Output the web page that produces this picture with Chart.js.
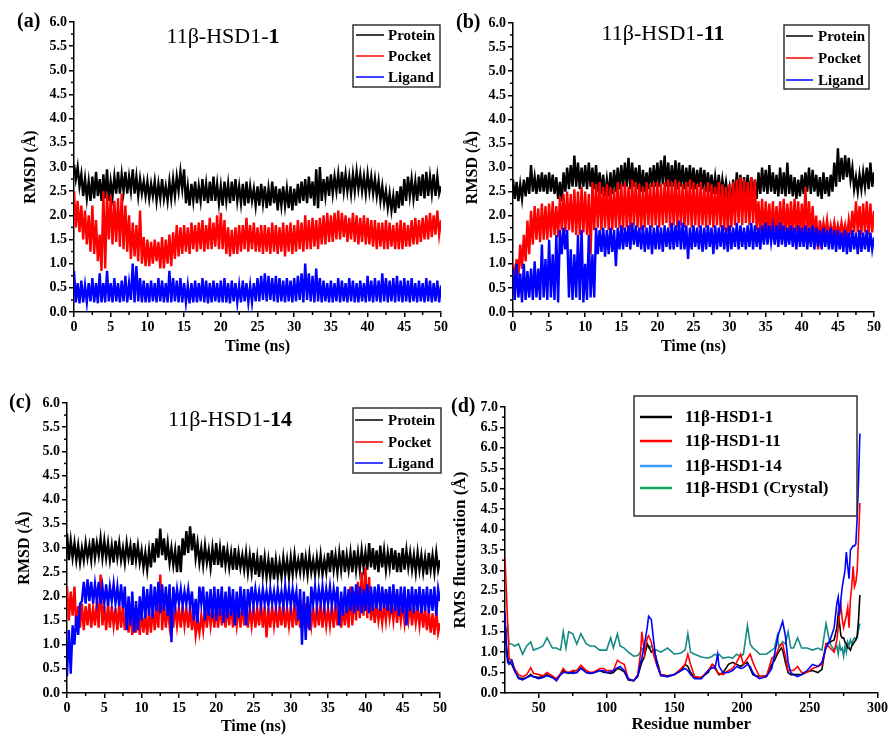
<!DOCTYPE html>
<html>
<head>
<meta charset="utf-8">
<script src="https://cdn.jsdelivr.net/npm/chart.js@4.4.1/dist/chart.umd.min.js"></script>
<style>
  body { margin: 0; background: #fff; }
  #wrap { position: relative; width: 890px; height: 735px; }
  #wrap canvas { position: absolute; left: 0; top: 0; }
</style>
</head>
<body>
<div id="wrap">
  <canvas id="panelA" width="890" height="735"></canvas>
  <canvas id="panelB" width="890" height="735"></canvas>
  <canvas id="panelC" width="890" height="735"></canvas>
  <canvas id="panelD" width="890" height="735"></canvas>
</div>
<script>
// ---------------------------------------------------------------
// data (RMSD in Å, one sample every 0.25 ns)
// ---------------------------------------------------------------
const timeStep = 0.25;
const timeTicks = [0, 5, 10, 15, 20, 25, 30, 35, 40, 45, 50];
const rmsdTicks = [0, 0.5, 1, 1.5, 2, 2.5, 3, 3.5, 4, 4.5, 5, 5.5, 6];
const seriesNames = ['Protein', 'Pocket', 'Ligand'];

// (a) 11β-HSD1-1
const protein1 = [
  3.05,2.75,3.0,2.6,2.85,2.4,2.75,2.35,2.7,2.3,2.8,2.35,2.9,2.4,2.75,2.3,2.85,2.35,2.95,2.3,
  2.7,2.4,2.8,2.45,2.9,2.45,2.85,2.5,2.9,2.45,2.8,2.5,2.95,2.45,2.8,2.4,2.75,2.45,2.7,2.4,
  2.7,2.35,2.65,2.4,2.7,2.3,2.65,2.35,2.75,2.35,2.6,2.3,2.7,2.35,2.75,2.4,2.8,2.5,2.9,2.55,
  2.95,2.25,2.6,2.2,2.65,2.3,2.7,2.25,2.6,2.3,2.75,2.3,2.65,2.25,2.7,2.3,2.8,2.3,2.65,2.25,
  2.6,2.2,2.7,2.3,2.65,2.25,2.7,2.3,2.75,2.3,2.6,2.25,2.65,2.2,2.7,2.25,2.6,2.3,2.55,2.2,
  2.6,2.2,2.65,2.25,2.6,2.15,2.55,2.2,2.7,2.25,2.6,2.1,2.55,2.2,2.6,2.2,2.55,2.15,2.6,2.1,
  2.55,2.2,2.65,2.25,2.7,2.3,2.75,2.25,2.8,2.35,2.7,2.2,2.95,2.15,3.0,2.3,2.75,2.4,2.8,2.4,
  2.85,2.45,2.8,2.5,2.85,2.45,2.9,2.5,2.85,2.5,2.8,2.45,2.85,2.5,2.9,2.55,2.85,2.5,2.8,2.45,
  2.85,2.5,2.8,2.45,2.75,2.4,2.7,2.3,2.6,2.25,2.5,2.15,2.45,2.1,2.4,2.05,2.5,2.15,2.6,2.2,
  2.75,2.3,2.8,2.4,2.75,2.35,2.7,2.3,2.8,2.4,2.85,2.35,2.9,2.4,2.8,2.45,2.85,2.4,2.8,2.45,
  2.6
];
const pocket1 = [
  2.5,1.75,2.3,1.65,2.2,1.5,2.1,1.4,2.0,1.25,2.2,1.2,1.9,1.05,1.6,0.85,2.5,0.9,2.45,1.5,
  2.4,1.4,2.3,1.45,2.35,1.35,2.45,1.3,2.2,1.25,2.0,1.1,1.85,1.15,1.8,1.05,2.1,1.0,1.55,0.95,
  1.5,0.95,1.45,1.0,1.5,1.05,1.45,0.9,1.55,0.9,1.5,1.0,1.6,0.95,1.65,1.1,1.8,1.15,1.75,1.2,
  1.8,1.25,1.75,1.2,1.85,1.3,1.8,1.25,1.85,1.3,1.9,1.25,1.8,1.3,1.95,1.3,1.85,1.35,2.0,1.3,
  2.05,1.3,1.9,1.2,1.75,1.15,1.7,1.2,1.75,1.2,1.8,1.25,1.8,1.3,1.95,1.25,1.8,1.3,1.85,1.25,
  1.75,1.25,1.8,1.2,1.8,1.25,1.75,1.2,1.85,1.25,1.8,1.2,1.75,1.25,1.85,1.15,1.8,1.25,1.85,1.2,
  1.8,1.25,1.9,1.3,1.85,1.25,2.0,1.3,1.9,1.3,1.95,1.35,1.9,1.3,1.95,1.4,2.0,1.4,2.05,1.45,
  2.0,1.45,2.05,1.5,2.1,1.5,2.05,1.55,2.0,1.45,1.95,1.5,2.05,1.45,2.0,1.4,1.95,1.45,2.0,1.4,
  1.95,1.4,1.9,1.35,1.9,1.3,1.85,1.35,1.85,1.3,1.9,1.3,1.85,1.35,1.8,1.3,1.85,1.3,1.9,1.3,
  1.85,1.35,1.8,1.35,1.9,1.4,1.95,1.4,1.9,1.45,1.95,1.5,2.0,1.5,2.05,1.55,2.0,1.6,2.1,1.6,
  1.9
];
const ligand1 = [
  0.85,0.2,0.6,0.18,0.65,0.2,0.55,0.2,0.6,0.22,0.7,0.2,0.6,0.18,0.8,0.2,0.6,0.2,0.85,0.22,
  0.6,0.2,0.7,0.22,0.6,0.2,0.65,0.22,0.75,0.2,0.6,0.25,1.0,0.2,0.95,0.22,0.7,0.2,0.65,0.2,
  0.6,0.2,0.65,0.22,0.6,0.2,0.7,0.22,0.65,0.2,0.6,0.2,0.85,0.2,0.7,0.22,0.65,0.2,0.7,0.2,
  0.6,0.2,0.55,0.18,0.6,0.2,0.65,0.2,0.6,0.22,0.7,0.2,0.65,0.18,0.6,0.2,0.65,0.22,0.6,0.2,
  0.65,0.2,0.7,0.2,0.6,0.18,0.65,0.22,0.6,0.2,0.55,0.2,0.65,0.22,0.6,0.2,0.55,0.2,0.6,0.22,
  0.7,0.22,0.75,0.25,0.8,0.22,0.75,0.25,0.7,0.22,0.75,0.2,0.7,0.22,0.65,0.2,0.7,0.22,0.65,0.2,
  0.7,0.22,0.75,0.25,0.8,0.2,1.0,0.25,0.8,0.22,0.75,0.2,0.9,0.22,0.7,0.2,0.65,0.22,0.6,0.2,
  0.65,0.2,0.6,0.22,0.7,0.2,0.65,0.22,0.6,0.2,0.7,0.22,0.65,0.2,0.6,0.2,0.65,0.22,0.6,0.2,
  0.75,0.22,0.65,0.2,0.7,0.22,0.65,0.2,0.8,0.22,0.7,0.2,0.65,0.22,0.7,0.2,0.75,0.22,0.65,0.2,
  0.7,0.22,0.65,0.2,0.7,0.22,0.6,0.2,0.65,0.22,0.6,0.2,0.7,0.22,0.65,0.2,0.6,0.22,0.65,0.2,
  0.55
];

// (b) 11β-HSD1-11
const protein11 = [
  2.75,2.35,2.7,2.3,2.65,2.35,2.75,2.4,2.8,2.45,3.05,2.5,2.8,2.45,2.85,2.5,2.9,2.5,2.85,2.45,
  2.9,2.5,2.85,2.45,2.8,2.35,2.7,2.3,2.9,2.5,3.0,2.55,3.05,2.6,3.25,2.6,3.1,2.55,3.0,2.6,
  3.05,2.55,3.1,2.6,3.0,2.55,3.05,2.5,2.9,2.45,2.85,2.4,2.75,2.4,2.9,2.45,2.95,2.5,3.0,2.55,
  3.05,2.6,3.1,2.6,3.2,2.55,3.1,2.6,3.0,2.55,3.05,2.5,2.95,2.5,2.9,2.55,3.0,2.6,3.05,2.6,
  3.1,2.6,3.15,2.65,3.25,2.6,3.1,2.6,3.05,2.6,3.15,2.55,3.1,2.6,3.05,2.55,3.0,2.6,3.05,2.55,
  3.0,2.55,2.95,2.6,3.0,2.55,2.95,2.5,2.9,2.5,2.85,2.45,2.8,2.45,2.85,2.4,2.75,2.45,2.7,2.4,
  2.6,2.3,2.75,2.35,2.9,2.4,2.85,2.35,2.8,2.4,2.85,2.35,2.8,2.4,2.75,2.35,2.9,2.45,3.0,2.5,
  2.95,2.45,3.05,2.5,2.9,2.45,2.85,2.4,3.0,2.45,2.9,2.4,3.1,2.45,2.85,2.4,2.8,2.35,2.75,2.4,
  2.85,2.45,2.9,2.5,3.0,2.45,2.95,2.5,2.85,2.4,2.8,2.35,2.9,2.45,2.8,2.4,2.85,2.5,3.1,2.6,
  3.4,2.7,3.2,2.75,3.25,2.8,3.2,2.75,3.0,2.55,2.8,2.5,2.85,2.55,2.9,2.6,3.0,2.55,3.1,2.6,
  2.9
];
const pocket11 = [
  1.0,0.7,1.1,0.75,1.4,0.9,1.6,1.05,1.9,1.2,2.1,1.4,2.2,1.5,2.15,1.45,2.25,1.5,2.2,1.5,
  2.25,1.55,2.3,1.6,2.2,1.55,2.4,1.7,2.45,1.65,2.5,1.7,2.45,1.65,2.55,1.6,2.5,1.6,2.6,1.65,
  2.5,1.6,2.45,1.2,2.7,1.7,2.65,1.75,2.7,1.7,2.6,1.75,2.65,1.7,2.6,1.7,2.55,1.75,2.7,1.75,
  2.65,1.7,2.7,1.75,2.6,1.7,2.75,1.8,2.7,1.75,2.65,1.7,2.6,1.75,2.7,1.8,2.65,1.75,2.7,1.8,
  2.7,1.75,2.65,1.8,2.7,1.85,2.75,1.75,2.7,1.8,2.75,1.75,2.7,1.8,2.65,1.75,2.7,1.8,2.75,1.75,
  2.7,1.8,2.65,1.75,2.7,1.8,2.6,1.75,2.7,1.8,2.65,1.75,2.6,1.8,2.7,1.75,2.65,1.7,2.6,1.65,
  2.65,1.75,2.7,1.8,2.75,1.85,2.8,1.8,2.75,1.85,2.7,1.8,2.8,1.85,2.75,1.7,2.3,1.65,2.35,1.6,
  2.3,1.65,2.25,1.6,2.3,1.65,2.2,1.6,2.3,1.65,2.35,1.6,2.25,1.65,2.3,1.6,2.35,1.65,2.3,1.6,
  2.25,1.6,2.6,1.55,2.3,1.6,2.2,1.5,2.0,1.3,1.9,1.6,1.85,1.6,1.9,1.55,1.8,1.6,1.85,1.6,
  1.8,1.6,1.85,1.6,1.8,1.55,1.9,1.6,2.1,1.65,2.3,1.65,2.2,1.6,2.25,1.65,2.3,1.6,2.25,1.65,
  2.1
];
const ligand11 = [
  0.9,0.25,1.0,0.3,0.8,0.2,1.0,0.25,0.85,0.3,0.9,0.25,1.05,0.3,0.9,0.25,1.4,0.3,1.1,0.25,
  1.5,0.3,1.2,0.25,1.6,0.2,1.7,1.2,1.75,1.3,1.7,0.3,1.3,0.25,1.2,0.3,1.6,0.25,1.7,0.2,
  1.0,0.25,1.6,0.3,1.2,0.3,1.75,1.2,1.7,1.25,1.75,1.15,1.7,1.2,1.75,1.25,1.7,0.95,1.75,1.3,
  1.8,1.3,1.75,1.35,1.8,1.3,1.85,1.4,1.8,1.35,1.75,1.3,1.8,1.25,1.75,1.3,1.8,1.2,1.75,1.3,
  1.8,1.3,1.75,1.25,1.8,1.35,1.75,1.3,1.85,1.3,1.8,1.35,1.9,1.3,1.85,1.3,1.8,1.1,1.75,1.3,
  1.8,1.35,1.75,1.3,1.8,1.25,1.75,1.3,1.8,1.35,1.75,1.2,1.8,1.3,1.75,1.35,1.8,1.3,1.75,1.25,
  1.8,1.3,1.75,1.35,1.85,1.3,1.8,1.35,1.75,1.3,1.8,1.35,1.85,1.3,1.8,1.35,1.75,1.3,1.8,1.4,
  1.85,1.4,1.8,1.45,1.75,1.4,1.8,1.35,1.85,1.4,1.8,1.35,1.75,1.4,1.8,1.35,1.75,1.3,1.8,1.35,
  1.75,1.35,1.8,1.3,1.75,1.35,1.8,1.3,1.75,1.35,1.7,1.3,1.75,1.35,1.7,1.3,1.75,1.3,1.7,1.25,
  1.7,1.3,1.65,1.25,1.7,1.2,1.65,1.25,1.7,1.3,1.65,1.2,1.7,1.25,1.65,1.3,1.7,1.25,1.65,1.3,
  1.55
];

// (c) 11β-HSD1-14
const protein14 = [
  3.3,2.75,3.15,2.8,3.1,2.75,3.05,2.7,3.0,2.75,3.1,2.8,3.05,2.75,3.2,2.8,3.1,2.85,3.2,2.8,
  3.15,2.8,3.1,2.75,3.05,2.7,3.15,2.8,3.1,2.75,3.0,2.7,3.1,2.8,3.05,2.65,3.1,2.75,3.05,2.7,
  2.95,2.6,2.9,2.55,2.95,2.6,3.1,2.7,3.2,2.8,3.4,2.85,3.2,2.75,3.1,2.7,3.0,2.65,2.95,2.5,
  3.05,2.5,3.2,2.85,3.35,2.9,3.45,2.95,3.3,2.8,3.1,2.7,3.0,2.65,3.05,2.7,2.95,2.6,3.0,2.65,
  3.1,2.65,3.0,2.6,3.05,2.65,2.95,2.6,2.9,2.55,3.0,2.55,2.9,2.6,2.85,2.55,2.9,2.5,2.85,2.5,
  2.9,2.45,2.8,2.4,2.85,2.45,2.8,2.4,2.75,2.4,2.8,2.35,2.75,2.4,2.7,2.4,2.8,2.45,2.75,2.4,
  2.8,2.45,2.85,2.5,2.75,2.5,2.9,2.5,2.8,2.45,2.85,2.5,2.75,2.45,2.8,2.5,2.85,2.45,2.75,2.5,
  2.9,2.5,2.95,2.55,2.85,2.5,2.9,2.55,2.95,2.5,2.85,2.55,2.9,2.5,2.95,2.55,2.9,2.55,2.95,2.6,
  2.9,2.55,3.1,2.6,3.0,2.55,2.95,2.5,3.05,2.6,2.95,2.55,2.9,2.6,3.0,2.55,2.95,2.5,2.9,2.5,
  3.0,2.55,2.95,2.6,2.9,2.55,2.85,2.5,2.9,2.55,2.85,2.5,2.8,2.45,2.9,2.55,2.85,2.5,2.9,2.55,
  2.75
];
const pocket14 = [
  2.2,1.5,2.1,1.6,2.2,1.3,1.8,1.35,1.85,1.3,1.8,1.4,1.85,1.35,1.75,1.4,1.9,1.35,2.45,1.4,
  1.8,1.3,1.85,1.35,1.8,1.4,1.75,1.3,1.85,1.35,1.8,1.3,1.7,1.25,1.75,1.2,1.7,1.25,1.75,1.2,
  1.7,1.25,1.65,1.2,1.7,1.25,1.8,1.3,1.75,1.35,2.45,1.3,1.85,1.35,1.8,1.4,1.75,1.35,1.8,1.4,
  1.75,1.35,1.8,1.4,1.75,1.35,1.8,1.3,1.7,1.2,1.5,1.25,1.6,1.3,1.75,1.35,1.8,1.4,1.75,1.35,
  1.8,1.35,1.85,1.4,1.75,1.35,1.8,1.4,1.85,1.35,1.75,1.4,1.8,1.35,1.85,1.4,1.8,1.35,1.75,1.4,
  1.8,1.35,1.75,1.4,1.85,1.35,1.8,1.15,1.75,1.35,1.8,1.4,1.75,1.35,1.8,1.4,1.85,1.35,1.75,1.4,
  1.8,1.35,1.85,1.4,1.8,1.35,1.75,1.4,1.85,1.35,1.8,1.4,1.75,1.35,1.8,1.4,1.85,1.35,1.8,1.4,
  1.75,1.4,1.8,1.35,1.85,1.4,1.8,1.35,1.75,1.4,1.85,1.35,2.2,1.4,2.1,1.5,2.3,1.55,2.5,1.6,
  2.6,1.55,2.4,1.5,1.9,1.45,1.85,1.5,1.8,1.45,1.85,1.5,1.9,1.55,1.85,1.5,1.9,1.45,1.85,1.5,
  1.85,1.45,1.8,1.5,1.85,1.4,1.8,1.45,1.75,1.4,1.8,1.35,1.75,1.3,1.7,1.25,1.65,1.2,1.7,1.25,
  1.45
];
const ligand14 = [
  0.35,1.3,0.4,1.4,1.0,1.6,1.2,1.85,1.9,2.3,1.85,2.35,1.9,2.3,1.85,2.25,1.9,2.3,1.85,2.2,
  1.85,2.25,1.8,2.2,1.9,2.25,1.85,2.2,1.8,2.25,1.75,2.2,1.3,2.0,1.4,2.1,1.25,1.9,1.3,2.0,
  1.5,2.2,1.55,2.15,1.6,2.25,1.55,2.2,1.7,2.3,1.65,2.25,1.7,2.2,1.6,2.25,1.05,2.2,1.8,2.15,
  1.85,2.15,1.8,2.1,1.85,2.15,1.8,2.1,1.5,1.95,1.45,2.2,1.85,2.2,1.5,2.1,1.6,2.15,1.55,2.2,
  1.5,2.15,1.6,2.2,1.45,2.1,1.55,2.2,1.6,2.15,1.4,2.1,1.55,2.2,1.6,2.15,1.4,2.15,1.8,2.2,
  1.8,2.15,1.85,2.1,1.8,2.15,1.85,2.1,1.8,2.15,1.85,2.1,1.8,2.15,1.85,2.1,1.8,2.2,1.85,2.15,
  1.8,2.15,1.85,2.1,1.5,2.15,1.0,2.1,1.1,2.0,1.3,2.2,1.85,2.2,1.8,2.15,1.85,2.2,1.8,2.15,
  1.85,2.2,1.8,2.15,1.85,2.2,1.4,2.1,1.6,2.2,1.65,2.15,1.7,2.2,1.65,2.25,1.7,2.2,1.65,2.15,
  1.7,2.25,1.65,2.2,1.7,2.2,1.75,2.25,1.7,2.2,1.75,2.15,1.7,2.2,1.65,2.25,1.7,2.15,1.6,2.2,
  1.65,2.2,1.4,2.15,1.7,2.2,1.65,2.15,1.7,2.2,1.65,2.15,1.7,2.2,1.65,2.15,1.7,2.2,1.6,2.15,
  1.9
];

// (d) RMS fluctuation per residue (Å)
const residueTicks = [50, 100, 150, 200, 250, 300];
const rmsfTicks = [0, 0.5, 1, 1.5, 2, 2.5, 3, 3.5, 4, 4.5, 5, 5.5, 6, 6.5, 7];
const rmsfNames = ['11β-HSD1-1', '11β-HSD1-11', '11β-HSD1-14', '11β-HSD1 (Crystal)'];
const residues = [
  25,26,27,28,30,32,35,38,41,44, 46,50,53,56,60,63,66,68,70,72,
  75,78,81,85,88,91,95,98,100,103, 105,108,110,113,116,120,123,125,126,128,
  130,131,133,135,137,140,145,150,155,158, 160,162,165,170,175,178,180,182,183,186,
  190,193,196,199,201,204,206,208,210,213, 218,222,224,226,227,229,230,232,234,236,
  238,241,244,248,252,256,259,262,265,268, 270,271,272,273,274,275,276,277,278,279,
  280,281,282,283,284,285,286,287
];
const rmsf1 = [
  1.7,1.2,0.9,0.75,0.7,0.55,0.38,0.35,0.38,0.45, 0.4,0.38,0.4,0.45,0.38,0.33,0.45,0.55,0.5,0.48,
  0.52,0.5,0.62,0.5,0.48,0.5,0.55,0.5,0.5,0.48, 0.5,0.6,0.58,0.52,0.32,0.3,0.4,0.65,0.75,0.9,
  1.2,1.15,1.0,1.05,0.8,0.45,0.42,0.45,0.55,0.7, 0.65,0.5,0.38,0.38,0.5,0.7,0.65,0.5,0.45,0.5,
  0.7,0.75,0.7,0.65,0.7,0.75,0.6,0.45,0.42,0.4, 0.42,0.7,0.8,0.95,1.0,1.1,1.05,0.75,0.5,0.45,
  0.45,0.45,0.45,0.52,0.55,0.5,0.58,1.2,1.25,1.3, 1.6,1.95,1.7,1.4,1.35,1.35,1.25,1.2,1.1,1.1,
  1.05,1.15,1.2,1.25,1.3,1.4,1.8,2.4
];
const rmsf11 = [
  3.3,2.5,1.7,0.85,0.8,0.6,0.45,0.4,0.45,0.62, 0.48,0.45,0.42,0.5,0.42,0.35,0.48,0.6,0.52,0.5,
  0.55,0.55,0.68,0.55,0.5,0.52,0.6,0.6,0.55,0.55, 0.55,0.8,0.75,0.7,0.35,0.3,0.45,0.95,1.5,0.95,
  1.35,1.4,1.25,0.9,0.7,0.45,0.4,0.45,0.6,0.7, 0.95,0.7,0.4,0.38,0.55,0.7,0.6,0.5,0.48,0.45,
  0.55,0.6,0.75,0.95,0.7,0.85,0.95,0.75,0.6,0.4, 0.4,0.85,0.9,1.0,1.1,1.2,1.2,0.9,0.55,0.55,
  0.55,0.65,0.5,0.5,0.6,0.65,0.7,1.2,1.1,1.0, 1.3,1.6,2.0,2.15,1.8,1.6,1.75,1.9,2.1,1.6,
  2.3,2.6,3.1,2.6,2.7,3.0,3.8,4.65
];
const rmsf14 = [
  2.0,1.0,0.75,0.7,0.8,0.55,0.35,0.32,0.38,0.42, 0.4,0.35,0.38,0.42,0.38,0.3,0.45,0.5,0.5,0.5,
  0.48,0.5,0.6,0.5,0.48,0.5,0.55,0.55,0.5,0.52, 0.55,0.62,0.65,0.55,0.35,0.3,0.42,0.75,0.85,1.2,
  1.6,1.88,1.8,1.2,0.7,0.42,0.4,0.45,0.55,0.6, 0.55,0.45,0.35,0.35,0.55,0.62,0.6,0.95,0.65,0.5,
  0.5,0.55,0.65,0.6,0.62,0.7,0.65,0.5,0.42,0.35, 0.4,0.6,0.95,1.3,1.45,1.65,1.75,1.4,0.75,0.5,
  0.45,0.4,0.45,0.55,0.7,0.65,0.75,1.1,1.3,1.6, 2.2,2.35,1.9,2.3,2.6,2.8,3.0,3.45,3.1,2.8,
  3.5,3.55,3.6,3.6,3.65,4.3,5.2,6.35
];
const rmsfCrystal = [
  1.7,1.5,1.6,1.2,1.2,1.15,1.2,0.95,1.15,1.25, 1.05,1.1,1.15,1.35,1.1,1.1,1.05,1.5,1.1,1.5,
  1.45,1.2,1.45,1.2,1.15,1.15,1.05,1.05,1.05,1.35, 1.1,1.45,1.15,1.1,1.0,0.9,0.92,1.0,1.1,1.05,
  1.2,1.1,1.15,1.05,1.05,1.0,1.1,0.95,0.98,1.05, 1.45,1.0,0.95,0.88,0.85,0.9,0.95,0.9,0.95,0.85,
  0.88,0.85,0.95,0.9,0.95,1.65,1.2,1.1,1.05,0.95, 0.95,1.05,1.1,1.4,1.15,1.2,1.25,1.2,1.5,1.1,
  1.1,1.35,1.1,1.1,1.05,1.1,1.05,1.7,1.2,1.05, 1.15,0.95,1.2,1.05,1.1,0.9,1.15,1.0,1.25,1.15,
  1.3,1.2,1.3,1.35,1.3,1.35,1.55,1.7
];

// ---------------------------------------------------------------
const SERIF = "'Liberation Serif', 'Times New Roman', serif";
Chart.defaults.font.family = SERIF;
Chart.defaults.color = '#000';

function timeSeries(values) {
  return values.map((v, i) => ({ x: i * timeStep, y: v }));
}
function residueSeries(values) {
  return values.map((v, i) => ({ x: residues[i], y: v }));
}

// title, panel letter, framed legend and minor ticks
const panelDecor = {
  id: 'panelDecor',
  afterDraw(chart, args, o) {
    const ctx = chart.ctx;
    const area = chart.chartArea;
    ctx.save();

    // minor ticks half way between the majors
    ctx.strokeStyle = '#000';
    ctx.lineWidth = 1.5;
    const xs = chart.scales.x, ys = chart.scales.y;
    for (let i = 0; i < xs.ticks.length - 1; i++) {
      const px = xs.getPixelForValue((xs.ticks[i].value + xs.ticks[i + 1].value) / 2);
      ctx.beginPath(); ctx.moveTo(px, area.bottom); ctx.lineTo(px, area.bottom + 3); ctx.stroke();
    }
    for (let i = 0; i < ys.ticks.length - 1; i++) {
      const py = ys.getPixelForValue((ys.ticks[i].value + ys.ticks[i + 1].value) / 2);
      ctx.beginPath(); ctx.moveTo(area.left - 3, py); ctx.lineTo(area.left, py); ctx.stroke();
    }

    // panel letter
    ctx.fillStyle = '#000';
    ctx.textBaseline = 'middle';
    ctx.textAlign = 'left';
    ctx.font = 'bold 20px ' + SERIF;
    ctx.fillText(o.letter[0], o.letter[1], o.letter[2]);

    // title: plain prefix + bold compound number
    if (o.title) {
      const [plain, bold, cx, cy] = o.title;
      ctx.font = '22px ' + SERIF;
      const w1 = ctx.measureText(plain).width;
      ctx.font = 'bold 22px ' + SERIF;
      const w2 = ctx.measureText(bold).width;
      const x0 = cx - (w1 + w2) / 2;
      ctx.font = '22px ' + SERIF;
      ctx.fillText(plain, x0, cy);
      ctx.font = 'bold 22px ' + SERIF;
      ctx.fillText(bold, x0 + w1, cy);
    }

    // legend in a frame
    const L = o.legend;
    ctx.strokeStyle = '#333';
    ctx.lineWidth = 1.5;
    ctx.strokeRect(L.x, L.y, L.w, L.h);
    ctx.font = 'bold ' + L.size + 'px ' + SERIF;
    chart.data.datasets.forEach((ds, i) => {
      const yy = L.rows[i];
      ctx.strokeStyle = ds.legendColor || ds.borderColor;
      ctx.lineWidth = L.lw;
      ctx.beginPath(); ctx.moveTo(L.lx0, yy); ctx.lineTo(L.lx1, yy); ctx.stroke();
      ctx.fillStyle = '#000';
      ctx.fillText(ds.label, L.tx, yy + 1);
    });
    ctx.restore();
  }
};

function axis(ticks, min, max, size, titleText, titleSize, fmt) {
  return {
    type: 'linear',
    min: min,
    max: max,
    afterBuildTicks: s => { s.ticks = ticks.map(v => ({ value: v })); },
    afterFit: s => { if (s.isHorizontal()) s.height = size; else s.width = size; },
    border: { display: true, color: '#000', width: 1.5 },
    grid: { display: true, drawOnChartArea: false, drawTicks: true, tickLength: 5, color: '#000', lineWidth: 1.5 },
    ticks: {
      autoSkip: false, maxRotation: 0, padding: 2,
      font: { size: 14, weight: 'bold' },
      callback: fmt
    },
    title: {
      display: true, text: titleText, padding: 0,
      font: { size: titleSize, weight: 'bold', lineHeight: 1 }
    }
  };
}

function rmsdChart(id, series, box) {
  const colors = ['#000000', '#ff0000', '#0000ff'];
  new Chart(document.getElementById(id), {
    type: 'line',
    data: {
      datasets: series.map((vals, i) => ({
        label: seriesNames[i],
        data: timeSeries(vals),
        borderColor: colors[i],
        borderWidth: 2.4,
        pointRadius: 0,
        tension: 0,
        order: 2 - i
      }))
    },
    options: {
      responsive: false,
      animation: false,
      events: [],
      layout: { padding: box.padding },
      scales: {
        x: axis(timeTicks, 0, 50, box.xh, 'Time (ns)', 16, v => String(v)),
        y: axis(rmsdTicks, 0, 6, box.yw, 'RMSD (Å)', 16, v => v.toFixed(1))
      },
      plugins: {
        legend: { display: false },
        tooltip: { enabled: false },
        panelDecor: box.decor
      }
    },
    plugins: [panelDecor]
  });
}

rmsdChart('panelA', [protein1, pocket1, ligand1], {
  padding: { left: 23, top: 22, right: 449, bottom: 380.5 }, yw: 51, xh: 42.5,
  decor: {
    letter: ['(a)', 17, 22],
    title: ['11β-HSD1-', '1', 223, 37],
    legend: { x: 353, y: 25, w: 87, h: 62, rows: [35, 56, 77], lx0: 356, lx1: 384, tx: 388, size: 15, lw: 1.5 }
  }
});
rmsdChart('panelB', [protein11, pocket11, ligand11], {
  padding: { left: 465, top: 23, right: 16, bottom: 380.5 }, yw: 48, xh: 42.5,
  decor: {
    letter: ['(b)', 456, 23],
    title: ['11β-HSD1-', '11', 663, 34],
    legend: { x: 784, y: 25, w: 85, h: 64, rows: [36, 58, 80], lx0: 786, lx1: 813, tx: 818, size: 15, lw: 1.5 }
  }
});
rmsdChart('panelC', [protein14, pocket14, ligand14], {
  padding: { left: 17, top: 403, right: 450, bottom: 0 }, yw: 50, xh: 42,
  decor: {
    letter: ['(c)', 9, 403],
    title: ['11β-HSD1-', '14', 230, 420],
    legend: { x: 353, y: 408, w: 88, h: 65, rows: [420, 442, 463], lx0: 355, lx1: 383, tx: 388, size: 15, lw: 1.5 }
  }
});

// (d) RMSF panel
new Chart(document.getElementById('panelD'), {
  type: 'line',
  data: {
    datasets: [
      { label: rmsfNames[0], data: residueSeries(rmsf1), borderColor: '#000000', order: 2 },
      { label: rmsfNames[1], data: residueSeries(rmsf11), borderColor: '#ff0000', order: 1 },
      { label: rmsfNames[2], data: residueSeries(rmsf14), borderColor: '#0000ff', legendColor: '#3d9bff', order: 0 },
      { label: rmsfNames[3], data: residueSeries(rmsfCrystal), borderColor: '#168a84', legendColor: '#11a563', order: 3 }
    ].map(ds => Object.assign(ds, { borderWidth: 1.6, pointRadius: 0, tension: 0 }))
  },
  options: {
    responsive: false,
    animation: false,
    events: [],
    layout: { padding: { left: 452.5, top: 407, right: 11, bottom: 1.5 } },
    scales: {
      x: axis(residueTicks, 25, 300, 40.5, 'Residue number', 17, v => String(v)),
      y: axis(rmsfTicks, 0, 7, 52.5, 'RMS flucturation (Å)', 17, v => v.toFixed(1))
    },
    plugins: {
      legend: { display: false },
      tooltip: { enabled: false },
      panelDecor: {
        letter: ['(d)', 451, 407],
        legend: { x: 634, y: 396, w: 223, h: 120, rows: [417, 441, 466, 488], lx0: 640, lx1: 672, tx: 685, size: 17, lw: 2.5 }
      }
    }
  },
  plugins: [panelDecor]
});
</script>
</body>
</html>
